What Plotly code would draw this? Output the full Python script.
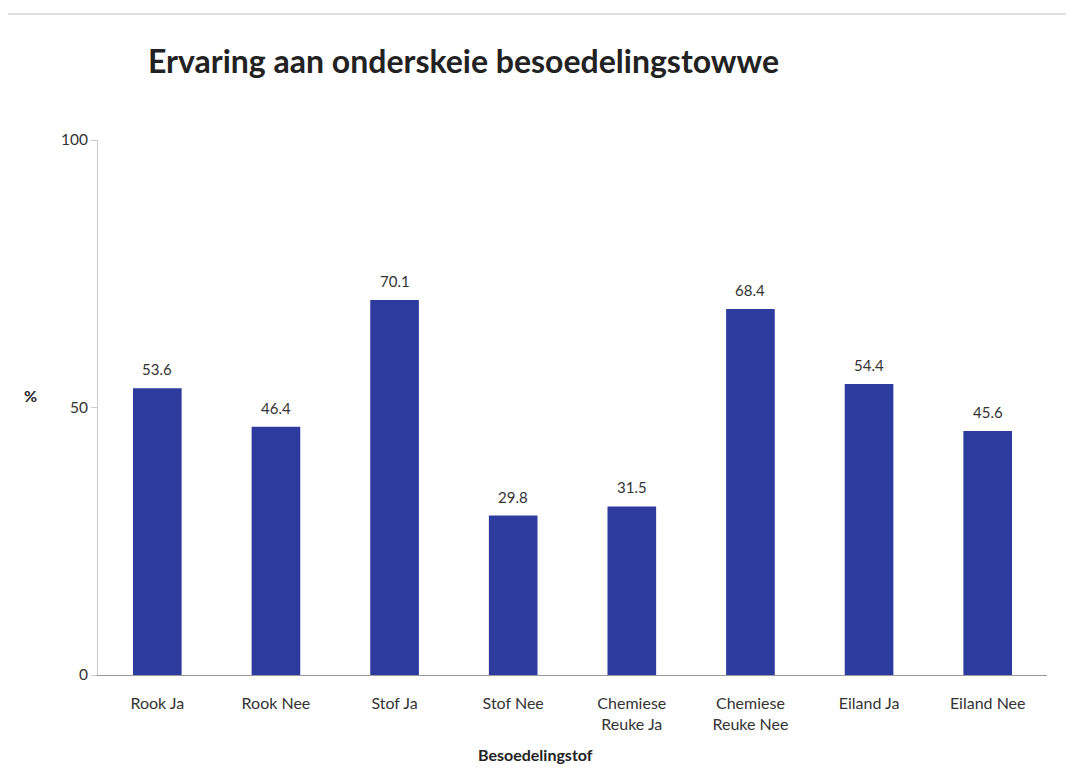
import plotly.graph_objects as go

categories = ["Rook Ja", "Rook Nee", "Stof Ja", "Stof Nee", "Chemiese<br>Reuke Ja",
              "Chemiese<br>Reuke Nee", "Eiland Ja", "Eiland Nee"]
values = [53.6, 46.4, 70.1, 29.8, 31.5, 68.4, 54.4, 45.6]
y_ticks = [0, 50, 100]

font_family = "Lato, 'Open Sans', sans-serif"

W, H = 1058, 762
L, R, T, B = 90, 19, 132, 95
PW, PH = W - L - R, H - T - B

fig = go.Figure(go.Bar(
    x=categories, y=values,
    marker=dict(color="#2d3b9e", line=dict(width=0)),
    width=0.41,
))

for c, v in zip(categories, values):
    fig.add_annotation(x=c, y=v, text=f"{v:.1f}", showarrow=False,
                       yanchor="bottom", yshift=8,
                       font=dict(size=15, color="#333333", family=font_family))

fig.update_layout(
    width=W, height=H,
    paper_bgcolor="white", plot_bgcolor="white",
    margin=dict(l=L, r=R, t=T, b=B),
    showlegend=False,
    title=dict(text="<b>Ervaring aan onderskeie besoedelingstowwe</b>",
               x=140/W, xanchor="left", y=1-54/H, yanchor="middle",
               font=dict(size=32, color="#222222", family=font_family)),
    font=dict(family=font_family, color="#333333"),
)
fig.update_xaxes(
    automargin=False,
    showline=True, linecolor="#999999", linewidth=1,
    ticks="", tickfont=dict(size=16, color="#333333"),
    ticklabelstandoff=14,
    showgrid=False,
)
fig.update_yaxes(
    automargin=False,
    range=[0, 100], tickvals=y_ticks,
    showline=True, linecolor="#cccccc", linewidth=1,
    ticks="outside", ticklen=6, tickcolor="#cccccc",
    tickfont=dict(size=15.5, color="#333333"),
    showgrid=False, zeroline=False,
)
fig.add_annotation(text="<b>Besoedelingstof</b>", xref="paper", yref="paper",
                   x=437/PW, y=-79/PH, yanchor="middle", showarrow=False,
                   font=dict(size=16, color="#222222"))
fig.add_annotation(text="<b>%</b>", xref="paper", yref="paper",
                   x=-76/PW, y=0.523, showarrow=False,
                   font=dict(size=16, color="#222222"))
fig.add_shape(type="line", xref="paper", yref="paper",
              x0=-L/PW, x1=1+R/PW, y0=1+(T-6)/PH, y1=1+(T-6)/PH,
              line=dict(color="#bbbbbb", width=1))

fig.write_html("out.html")
